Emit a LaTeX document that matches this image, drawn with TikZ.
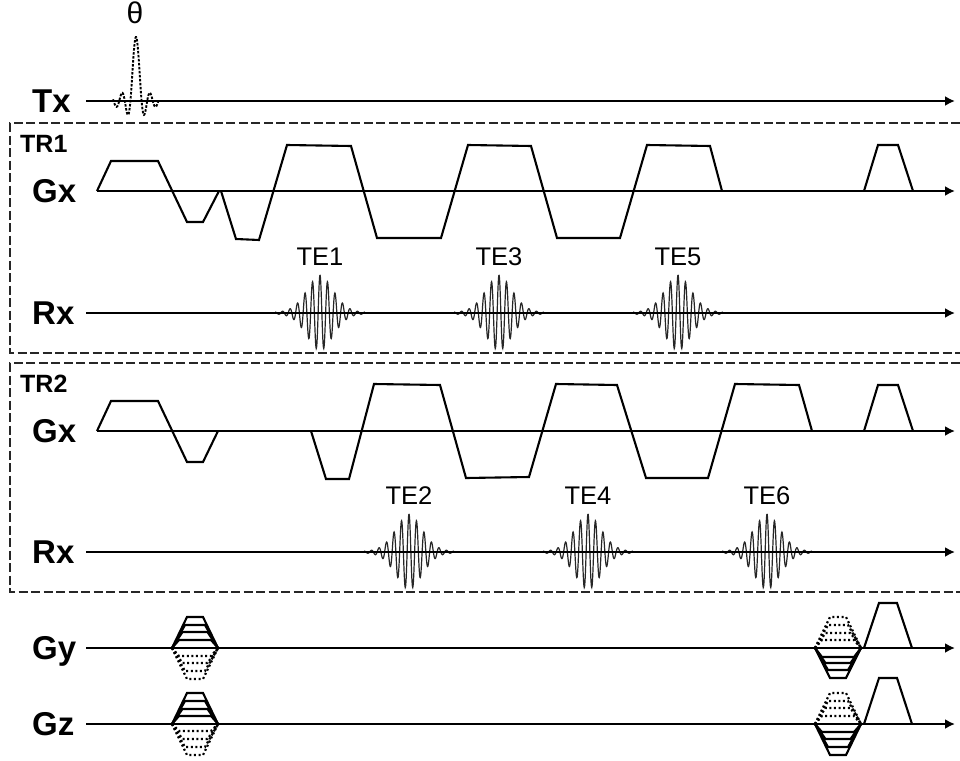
\documentclass[tikz,border=0pt]{standalone}
\usepackage{fontspec}
\setmainfont{Liberation Sans}
\usetikzlibrary{arrows.meta}
\tikzset{
  axisline/.style={line width=2.1pt,-{Latex[length=10pt,width=10pt]}},
  wave/.style={line width=2.1pt,line join=miter,black},
  frame/.style={line width=1.5pt,dash pattern=on 9pt off 3.5pt,black!85},
  biglabel/.style={anchor=base west,inner sep=0pt,font=\fontsize{33}{33}\selectfont\bfseries},
  trlabel/.style={anchor=base west,inner sep=0pt,font=\fontsize{25}{25}\selectfont\bfseries},
  telabel/.style={anchor=base,inner sep=0pt,font=\fontsize{25.5}{26}\selectfont},
  echo/.style={line width=1.2pt,black!85},
  rfpulse/.style={line width=1.9pt,dash pattern=on 2.5pt off 1.5pt},
  stepdot/.style={line width=2.2pt,dash pattern=on 2pt off 2.6pt},
  stepsolid/.style={line width=2.1pt}
}
\begin{document}
\begin{tikzpicture}[x=1pt,y=-1pt]
\useasboundingbox (0,0) rectangle (960,760);
% frames
\draw[frame] (960,123) -- (10,123) -- (10,353) -- (960,353);
\draw[frame] (960,363) -- (10,363) -- (10,592) -- (960,592);
% labels
\node[telabel,font=\fontsize{30}{30}\selectfont] (theta) at (135,24) {θ};
\node[biglabel] (tx) at (32,112) {Tx};
\node[trlabel] (tr1) at (20,152) {TR1};
\node[biglabel] (gx1) at (32,202) {Gx};
\node[biglabel] (rx1) at (32,324) {Rx};
\node[trlabel] (tr2) at (20,392) {TR2};
\node[biglabel] (gx2) at (32,442) {Gx};
\node[biglabel] (rx2) at (32,563) {Rx};
\node[biglabel] (gy) at (32,659) {Gy};
\node[biglabel] (gz) at (32,735) {Gz};
\foreach \n/\x/\y in {1/320/265,3/499/265,5/678/265,2/409/504,4/588/504,6/767/504}
  \node[telabel] (te\n) at (\x,\y) {TE\n};
% axis ends
\coordinate (txs) at (86,101);  \coordinate (txe) at (955,101);
\coordinate (gxas) at (97,191); \coordinate (gxae) at (955,191);
\coordinate (rxas) at (86,313); \coordinate (rxae) at (955,313);
\coordinate (gxbs) at (97,431); \coordinate (gxbe) at (955,431);
\coordinate (rxbs) at (86,552); \coordinate (rxbe) at (955,552);
\coordinate (gys) at (86,648);  \coordinate (gye) at (955,648);
\coordinate (gzs) at (86,724);  \coordinate (gze) at (955,724);
% echoes
\foreach \c/\b in {320/313,499/313,678/313,409/552,588/552,767/552}
  \draw[echo] plot[domain=-45:45,samples=300,smooth]
    ({\c+\x},{\b-38*(0.8*exp(-(\x/19)^2)+0.2*exp(-abs(\x)/20))*cos(deg(2*pi*\x/7.5))});
% axes
\foreach \a/\b in {txs/txe,gxas/gxae,rxas/rxae,gxbs/gxbe,rxbs/rxbe,gys/gye,gzs/gze}
  \draw[axisline] (\a) -- (\b);
% RF pulse
\draw[rfpulse] plot[domain=-23:23,samples=120,smooth]
  ({136+\x},{101-64*(abs(\x)<0.01 ? 1 : sin(deg(pi*\x/5.6))/(pi*\x/5.6))});
% TR1 Gx
\draw[wave] (97,191) -- (111,161) -- (158,161) -- (187,222) -- (203,222) -- (219,191);
\draw[wave] (221,191) -- (236,239) -- (259,240) -- (287,145) -- (351,146) -- (377,238) -- (441,238)
  -- (468,145) -- (531,146) -- (557,238) -- (620,238) -- (647,145) -- (710,146) -- (722,191);
\draw[wave] (864,191) -- (878,145) -- (898,145) -- (913,191);
% TR2 Gx
\draw[wave] (97,431) -- (111,401) -- (158,401) -- (187,462) -- (203,462) -- (218,431);
\draw[wave] (311,431) -- (326,479) -- (349,479) -- (374,384) -- (440,385) -- (466,478) -- (529,477)
  -- (556,384) -- (617,385) -- (646,478) -- (708,478) -- (735,384) -- (799,385) -- (812,431);
\draw[wave] (864,431) -- (878,385) -- (898,385) -- (913,431);
% phase encode blips: centre / baseline / y of four levels on each side
\foreach \cx/\by/\ya/\yb/\yc/\yd/\sty/\za/\zb/\zc/\zd/\stz in {
   195/648/617/625/632/640/stepsolid/679/671/663/656/stepdot,
   195/724/693/701/709/716/stepsolid/755/747/739/731/stepdot,
   838/648/678/670/663/657/stepsolid/617/625/633/640/stepdot,
   838/724/755/747/739/732/stepsolid/693/701/708/716/stepdot}{
  \draw[\sty] (\cx-23,\by) -- (\cx-8,\ya) -- (\cx+8,\ya) -- (\cx+23,\by);
  \draw[\sty] (\cx-23,\by) -- (\cx-10,\yb) -- (\cx+10,\yb) -- (\cx+23,\by);
  \draw[\sty] (\cx-23,\by) -- (\cx-12.5,\yc) -- (\cx+12.5,\yc) -- (\cx+23,\by);
  \draw[\sty] (\cx-23,\by) -- (\cx-16,\yd) -- (\cx+16,\yd) -- (\cx+23,\by);
  \draw[\stz] (\cx-23,\by) -- (\cx-8,\za) -- (\cx+8,\za) -- (\cx+23,\by);
  \draw[\stz] (\cx-23,\by) -- (\cx-10,\zb) -- (\cx+10,\zb) -- (\cx+23,\by);
  \draw[\stz] (\cx-23,\by) -- (\cx-12.5,\zc) -- (\cx+12.5,\zc) -- (\cx+23,\by);
  \draw[\stz] (\cx-23,\by) -- (\cx-16,\zd) -- (\cx+16,\zd) -- (\cx+23,\by);
}
% spoilers
\draw[wave] (864,648) -- (879,603) -- (897,603) -- (912,648);
\draw[wave] (864,724) -- (879,678) -- (897,678) -- (912,724);
\end{tikzpicture}
\end{document}
